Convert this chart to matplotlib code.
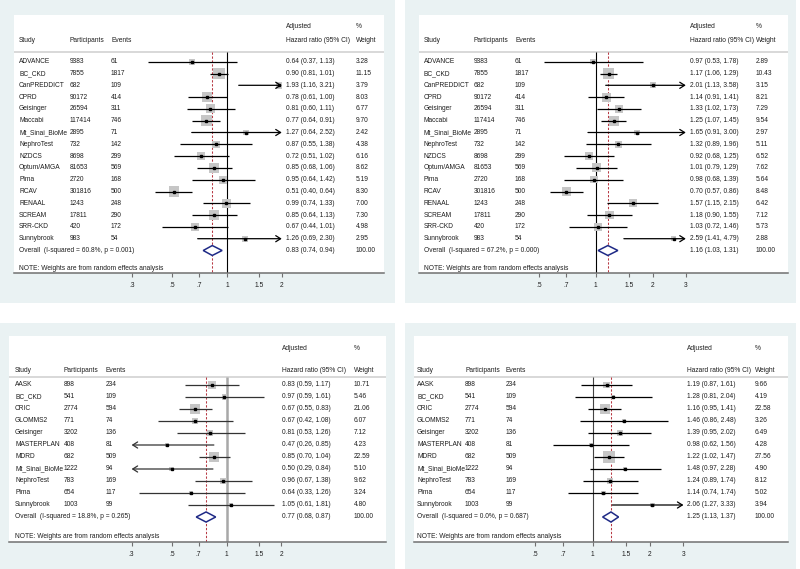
import matplotlib
matplotlib.use('Agg')
import matplotlib.pyplot as plt
import matplotlib.transforms as mtransforms
from matplotlib.patches import Rectangle, Polygon
from matplotlib.ticker import FixedLocator, FixedFormatter, NullLocator
import numpy as np

plt.rcParams['font.family'] = ['Liberation Sans', 'DejaVu Sans']

# ---------------- data ----------------
studies_top = ['ADVANCE', 'BC_CKD', 'CanPREDDICT', 'CPRD', 'Geisinger', 'Maccabi',
               'Mt_Sinai_BioMe', 'NephroTest', 'NZDCS', 'Optum/AMGA', 'Pima', 'RCAV',
               'RENAAL', 'SCREAM', 'SRR-CKD', 'Sunnybrook']
participants_top = [9383, 7855, 682, 90172, 26594, 117414, 2895, 732, 8698, 81653,
                    2720, 301816, 1243, 17811, 420, 983]
events_top = [61, 1817, 109, 414, 311, 746, 71, 142, 299, 569, 168, 500, 248, 290, 172, 54]

hr_a = [0.64, 0.90, 1.93, 0.78, 0.81, 0.77, 1.27, 0.87, 0.72, 0.85, 0.95, 0.51, 0.99, 0.85, 0.67, 1.26]
lo_a = [0.37, 0.81, 1.16, 0.61, 0.60, 0.64, 0.64, 0.55, 0.51, 0.68, 0.64, 0.40, 0.74, 0.64, 0.44, 0.69]
hi_a = [1.13, 1.01, 3.21, 1.00, 1.11, 0.91, 2.52, 1.38, 1.02, 1.06, 1.42, 0.64, 1.33, 1.13, 1.01, 2.30]
wt_a = [3.28, 11.15, 3.79, 8.03, 6.77, 9.70, 2.42, 4.38, 6.16, 8.62, 5.19, 8.30, 7.00, 7.30, 4.98, 2.95]
overall_a = (0.83, 0.74, 0.94)
het_a = 'Overall  (I-squared = 60.8%, p = 0.001)'

hr_b = [0.97, 1.17, 2.01, 1.14, 1.33, 1.25, 1.65, 1.32, 0.92, 1.01, 0.98, 0.70, 1.57, 1.18, 1.03, 2.59]
lo_b = [0.53, 1.06, 1.13, 0.91, 1.02, 1.07, 0.91, 0.89, 0.68, 0.79, 0.68, 0.57, 1.15, 0.90, 0.72, 1.41]
hi_b = [1.78, 1.29, 3.58, 1.41, 1.73, 1.45, 3.00, 1.96, 1.25, 1.29, 1.39, 0.86, 2.15, 1.55, 1.46, 4.79]
wt_b = [2.89, 10.43, 3.15, 8.21, 7.29, 9.54, 2.97, 5.11, 6.52, 7.62, 5.64, 8.48, 6.42, 7.12, 5.73, 2.88]
overall_b = (1.16, 1.03, 1.31)
het_b = 'Overall  (I-squared = 67.2%, p = 0.000)'

studies_bot = ['AASK', 'BC_CKD', 'CRIC', 'GLOMMS2', 'Geisinger', 'MASTERPLAN', 'MDRD',
               'Mt_Sinai_BioMe', 'NephroTest', 'Pima', 'Sunnybrook']
participants_bot = [898, 541, 2774, 771, 3202, 408, 682, 1222, 783, 654, 1003]
events_bot = [234, 109, 594, 74, 136, 81, 509, 94, 169, 117, 99]

hr_c = [0.83, 0.97, 0.67, 0.67, 0.81, 0.47, 0.85, 0.50, 0.96, 0.64, 1.05]
lo_c = [0.59, 0.59, 0.55, 0.42, 0.53, 0.26, 0.70, 0.29, 0.67, 0.33, 0.61]
hi_c = [1.17, 1.61, 0.83, 1.08, 1.26, 0.85, 1.04, 0.84, 1.38, 1.26, 1.81]
wt_c = [10.71, 5.46, 21.06, 6.07, 7.12, 4.23, 22.59, 5.10, 9.62, 3.24, 4.80]
overall_c = (0.77, 0.68, 0.87)
het_c = 'Overall  (I-squared = 18.8%, p = 0.265)'

hr_d = [1.19, 1.28, 1.16, 1.46, 1.39, 0.98, 1.22, 1.48, 1.24, 1.14, 2.06]
lo_d = [0.87, 0.81, 0.95, 0.86, 0.95, 0.62, 1.02, 0.97, 0.89, 0.74, 1.27]
hi_d = [1.61, 2.04, 1.41, 2.48, 2.02, 1.56, 1.47, 2.28, 1.74, 1.74, 3.33]
wt_d = [9.66, 4.19, 22.58, 3.26, 6.49, 4.28, 27.56, 4.90, 8.12, 5.02, 3.94]
overall_d = (1.25, 1.13, 1.37)
het_d = 'Overall  (I-squared = 0.0%, p = 0.687)'

ticks_low = [0.3, 0.5, 0.7, 1, 1.5, 2]
ticklabels_low = ['.3', '.5', '.7', '1', '1.5', '2']
ticks_high = [0.5, 0.7, 1, 1.5, 2, 3]
ticklabels_high = ['.5', '.7', '1', '1.5', '2', '3']

header_left = ['Study', 'Participants', 'Events']
header_hr = ['Adjusted', 'Hazard ratio (95% CI)']
header_wt = ['%', 'Weight']
note_text = 'NOTE: Weights are from random effects analysis'

# ---------------- style ----------------
W, H = 800, 569
BG = '#eaf2f3'
TXT = '#1e1e1e'
FS = 4.8
BOX = '#c6c6c6'
NAVY = '#1f2a86'
RED = '#b83a44'
AXC = '#707070'

fig = plt.figure(figsize=(W / 100, H / 100), dpi=100)
fig.patch.set_facecolor('white')
pxT = mtransforms.Affine2D().scale(1 / W, -1 / H).translate(0, 1) + fig.transFigure


def fig_rect(l, t, r, b):
    return [l / W, 1 - b / H, (r - l) / W, (b - t) / H]


def draw_panel(lay, names, parts, evs, hr, lo, hi, wt, ov, het, ticks, tlabels,
               boxk, refcolor, reflw, cicolor):
    ol, ot, orr, ob = lay['outer']
    fig.add_artist(Rectangle((ol, ot), orr - ol, ob - ot, transform=pxT,
                             facecolor=BG, edgecolor='none', zorder=-5))
    il, it, ir, ib = lay['inner']
    ax = fig.add_axes(fig_rect(il, it, ir, ib))
    ax.set_facecolor('white')
    ax.set_xscale('log')
    x1, sc = lay['x1'], lay['scale']
    ax.set_xlim(np.exp((il - x1) / sc), np.exp((ir - x1) / sc))
    r0, sp = lay['row0'], lay['sp']

    def idx(py):
        return (py - r0) / sp

    ax.set_ylim(idx(ib), idx(it))
    for s in ['top', 'left', 'right']:
        ax.spines[s].set_visible(False)
    ax.spines['bottom'].set_color(AXC)
    ax.spines['bottom'].set_linewidth(1.1)
    ax.xaxis.set_major_locator(FixedLocator(ticks))
    ax.xaxis.set_major_formatter(FixedFormatter(tlabels))
    ax.xaxis.set_minor_locator(NullLocator())
    ax.tick_params(axis='x', direction='out', length=3, width=0.8, color=AXC,
                   labelsize=FS, labelcolor=TXT, pad=3.5)
    ax.set_yticks([])

    cmin, cmax = ticks[0], ticks[-1]
    n = len(names)
    sep = idx(lay['sep'])
    bottom = idx(ib)

    # header separator
    ax.axhline(sep, color='#d6d6d6', lw=1.3, zorder=1)
    # reference lines
    ax.plot([1, 1], [sep, bottom], color=refcolor, lw=reflw, zorder=2,
            solid_capstyle='butt')
    ax.plot([ov[0], ov[0]], [sep, bottom], color=RED, lw=0.75,
            ls=(0, (2.2, 1.6)), zorder=2)

    for i in range(n):
        a = max(lo[i], cmin)
        b = min(hi[i], cmax)
        side_px = boxk * np.sqrt(wt[i])
        ax.scatter([hr[i]], [i], marker='s', s=(side_px * 0.72) ** 2,
                   color=BOX, edgecolors='none', zorder=3)
        if hi[i] >= cmax:
            ax.annotate('', xy=(b, i), xytext=(a, i),
                        arrowprops=dict(arrowstyle='->,head_length=0.35,head_width=0.22',
                                        lw=0.9, color=cicolor, shrinkA=0, shrinkB=0),
                        zorder=4)
        elif lo[i] < cmin:
            ax.annotate('', xy=(a, i), xytext=(b, i),
                        arrowprops=dict(arrowstyle='->,head_length=0.35,head_width=0.22',
                                        lw=0.9, color=cicolor, shrinkA=0, shrinkB=0),
                        zorder=4)
        else:
            ax.plot([a, b], [i, i], color=cicolor, lw=0.9, zorder=4,
                    solid_capstyle='butt')
        ax.plot([hr[i]], [i], marker='s', ms=1.6, color='black', zorder=5)

    # overall diamond
    yv = n
    dh = 0.42
    ax.add_patch(Polygon([(ov[1], yv), (ov[0], yv - dh), (ov[2], yv), (ov[0], yv + dh)],
                         closed=True, facecolor='white', edgecolor=NAVY, lw=1.1, zorder=6))

    tr = mtransforms.blended_transform_factory(pxT, ax.transData)
    cx = lay['cols']
    kw = dict(transform=tr, fontsize=FS, color=TXT, va='center', ha='left')
    ys = idx(lay['study_y'])
    ya = idx(lay['adj_y'])
    ax.text(cx[0], ys, header_left[0], **kw)
    ax.text(cx[1], ys, header_left[1], **kw)
    ax.text(cx[2], ys, header_left[2], **kw)
    ax.text(cx[3], ya, header_hr[0], **kw)
    ax.text(cx[3], ys, header_hr[1], **kw)
    ax.text(cx[4], ya, header_wt[0], **kw)
    ax.text(cx[4], ys, header_wt[1], **kw)
    for i in range(n):
        ax.text(cx[0], i, names[i], **kw)
        ax.text(cx[1], i, str(parts[i]), **kw)
        ax.text(cx[2], i, str(evs[i]), **kw)
        ax.text(cx[3], i, f'{hr[i]:.2f} ({lo[i]:.2f}, {hi[i]:.2f})', **kw)
        ax.text(cx[4], i, f'{wt[i]:.2f}', **kw)
    ax.text(cx[0], yv, het, **kw)
    ax.text(cx[3], yv, f'{ov[0]:.2f} ({ov[1]:.2f}, {ov[2]:.2f})', **kw)
    ax.text(cx[4], yv, '100.00', **kw)
    ax.text(cx[0], idx(lay['note_y']), note_text, **kw)
    return ax


lay_a = dict(outer=(0, 0, 395, 303), inner=(14, 15, 384, 273), x1=227.0, scale=79.0,
             row0=61.7, sp=11.8, sep=52, study_y=40, adj_y=27, note_y=268,
             cols=[19, 70, 111, 286, 356])
lay_b = dict(outer=(405, 0, 796, 303), inner=(419, 15, 788, 273), x1=595.7, scale=82.0,
             row0=61.7, sp=11.8, sep=52, study_y=40, adj_y=27, note_y=268,
             cols=[424, 474, 515, 690, 756])
lay_c = dict(outer=(0, 323, 395, 569), inner=(9, 336, 386, 542), x1=226.7, scale=79.0,
             row0=385.0, sp=12.0, sep=377, study_y=370, adj_y=348.5, note_y=536,
             cols=[15, 64, 106, 282, 354])
lay_d = dict(outer=(405, 323, 796, 569), inner=(414, 336, 788, 542), x1=592.5, scale=82.8,
             row0=385.0, sp=12.0, sep=377, study_y=370, adj_y=348.5, note_y=536,
             cols=[417, 465, 506, 687, 755])

draw_panel(lay_a, studies_top, participants_top, events_top, hr_a, lo_a, hi_a, wt_a,
           overall_a, het_a, ticks_low, ticklabels_low, 3.5, 'black', 0.8, 'black')
draw_panel(lay_b, studies_top, participants_top, events_top, hr_b, lo_b, hi_b, wt_b,
           overall_b, het_b, ticks_high, ticklabels_high, 3.2, 'black', 0.8, 'black')
draw_panel(lay_c, studies_bot, participants_bot, events_bot, hr_c, lo_c, hi_c, wt_c,
           overall_c, het_c, ticks_low, ticklabels_low, 2.2, '#a8a8a8', 1.8, '#333333')
draw_panel(lay_d, studies_bot, participants_bot, events_bot, hr_d, lo_d, hi_d, wt_d,
           overall_d, het_d, ticks_high, ticklabels_high, 2.2, '#444444', 0.8, 'black')

fig.savefig('out.png', dpi=100, facecolor='white')
